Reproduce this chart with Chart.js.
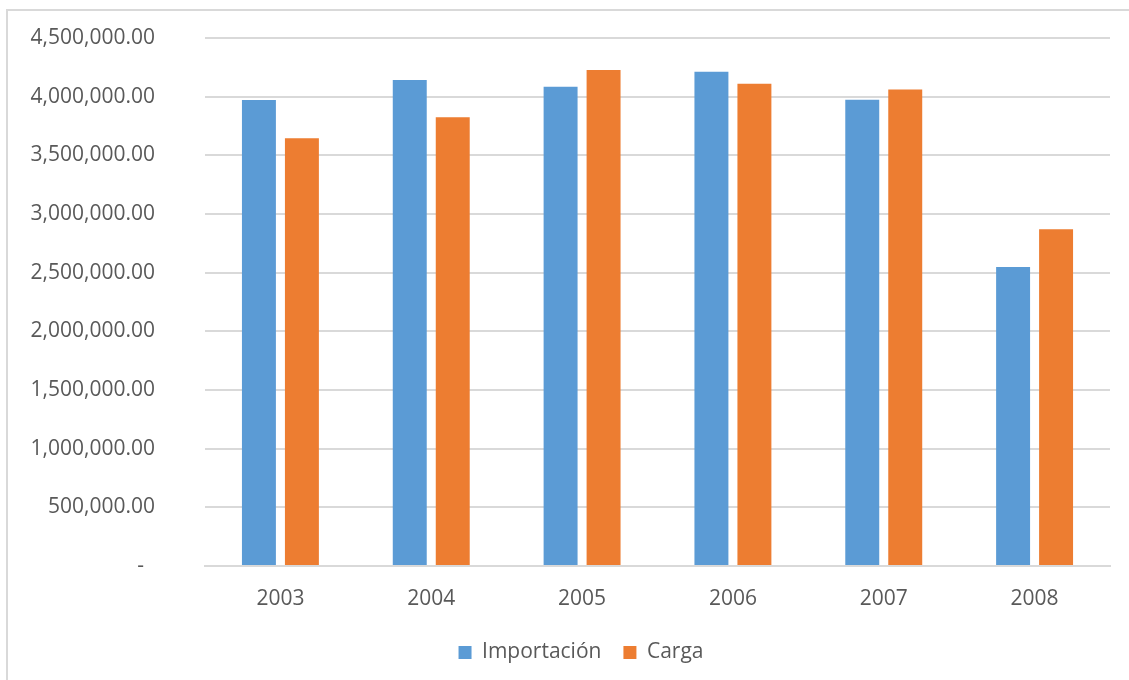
<!DOCTYPE html>
<html>
<head>
<meta charset="utf-8">
<script src="https://cdn.jsdelivr.net/npm/chart.js@4/dist/chart.umd.min.js"></script>
<style>
  html, body { margin: 0; padding: 0; background: #fff; overflow: hidden; }
  body { width: 1129px; height: 680px; position: relative; font-family: "Open Sans", sans-serif; }
  #cut { position: absolute; left: 2px; top: -28px; font: italic bold 21px "Open Sans", sans-serif; color: #000; white-space: nowrap; }
  #frame { position: absolute; left: 6px; top: 9px; width: 1140px; height: 700px; border: 2px solid #d9d9d9; box-sizing: border-box; background: #fff; }
  #wrap { position: absolute; left: 0; top: 0; width: 1129px; height: 680px; }
</style>
</head>
<body>
<div id="cut">(Kg y porcentajes de la importación)</div>
<div id="frame"></div>
<div id="wrap"><canvas id="c" width="1129" height="680"></canvas></div>
<script>
const years = ["2003", "2004", "2005", "2006", "2007", "2008"];
const importacion = [3971000, 4142000, 4085000, 4213000, 3974000, 2548000];
const carga = [3645000, 3824000, 4227000, 4110000, 4062000, 2869000];
const seriesNames = ["Importación", "Carga"];
const yMax = 4500000;
const yStep = 500000;

const textColor = "#595959";
const gridColor = "#d9d9d9";

const shiftLegend = {
  id: "shiftLegend",
  afterLayout(chart) {
    if (chart.legend) { chart.legend.left += 26; chart.legend.right += 26; }
  }
};

new Chart(document.getElementById("c"), {
  type: "bar",
  data: {
    labels: years,
    datasets: [
      { label: seriesNames[0], data: importacion, backgroundColor: "#5B9BD5" },
      { label: seriesNames[1], data: carga, backgroundColor: "#ED7D31" }
    ]
  },
  plugins: [shiftLegend],
  options: {
    responsive: false,
    animation: false,
    layout: { padding: { top: 38, right: 19, bottom: 7, left: 0 } },
    datasets: { bar: { categoryPercentage: 0.57, barPercentage: 0.79 } },
    scales: {
      x: {
        afterFit: (s) => { s.height = 54; },
        grid: { display: false, drawTicks: false },
        border: { display: true, color: gridColor, width: 2 },
        ticks: { color: textColor, font: { family: "Open Sans", size: 21 }, padding: 20 }
      },
      y: {
        min: 0, max: yMax,
        afterFit: (s) => { s.width = 205; s.paddingTop = 12; s.paddingBottom = 12; },
        grid: { color: gridColor, lineWidth: 2, drawTicks: false },
        border: { display: false },
        ticks: {
          stepSize: yStep,
          color: textColor,
          font: { family: "Open Sans", size: 21 },
          padding: 50,
          callback: (v) => v === 0 ? "-  " : Number(v).toLocaleString("en-US", { minimumFractionDigits: 2, maximumFractionDigits: 2 })
        }
      }
    },
    plugins: {
      tooltip: { enabled: false },
      legend: {
        position: "bottom",
        labels: { color: textColor, font: { family: "Open Sans", size: 21 }, boxWidth: 13, boxHeight: 13, padding: 22 }
      }
    }
  }
});
</script>
</body>
</html>
